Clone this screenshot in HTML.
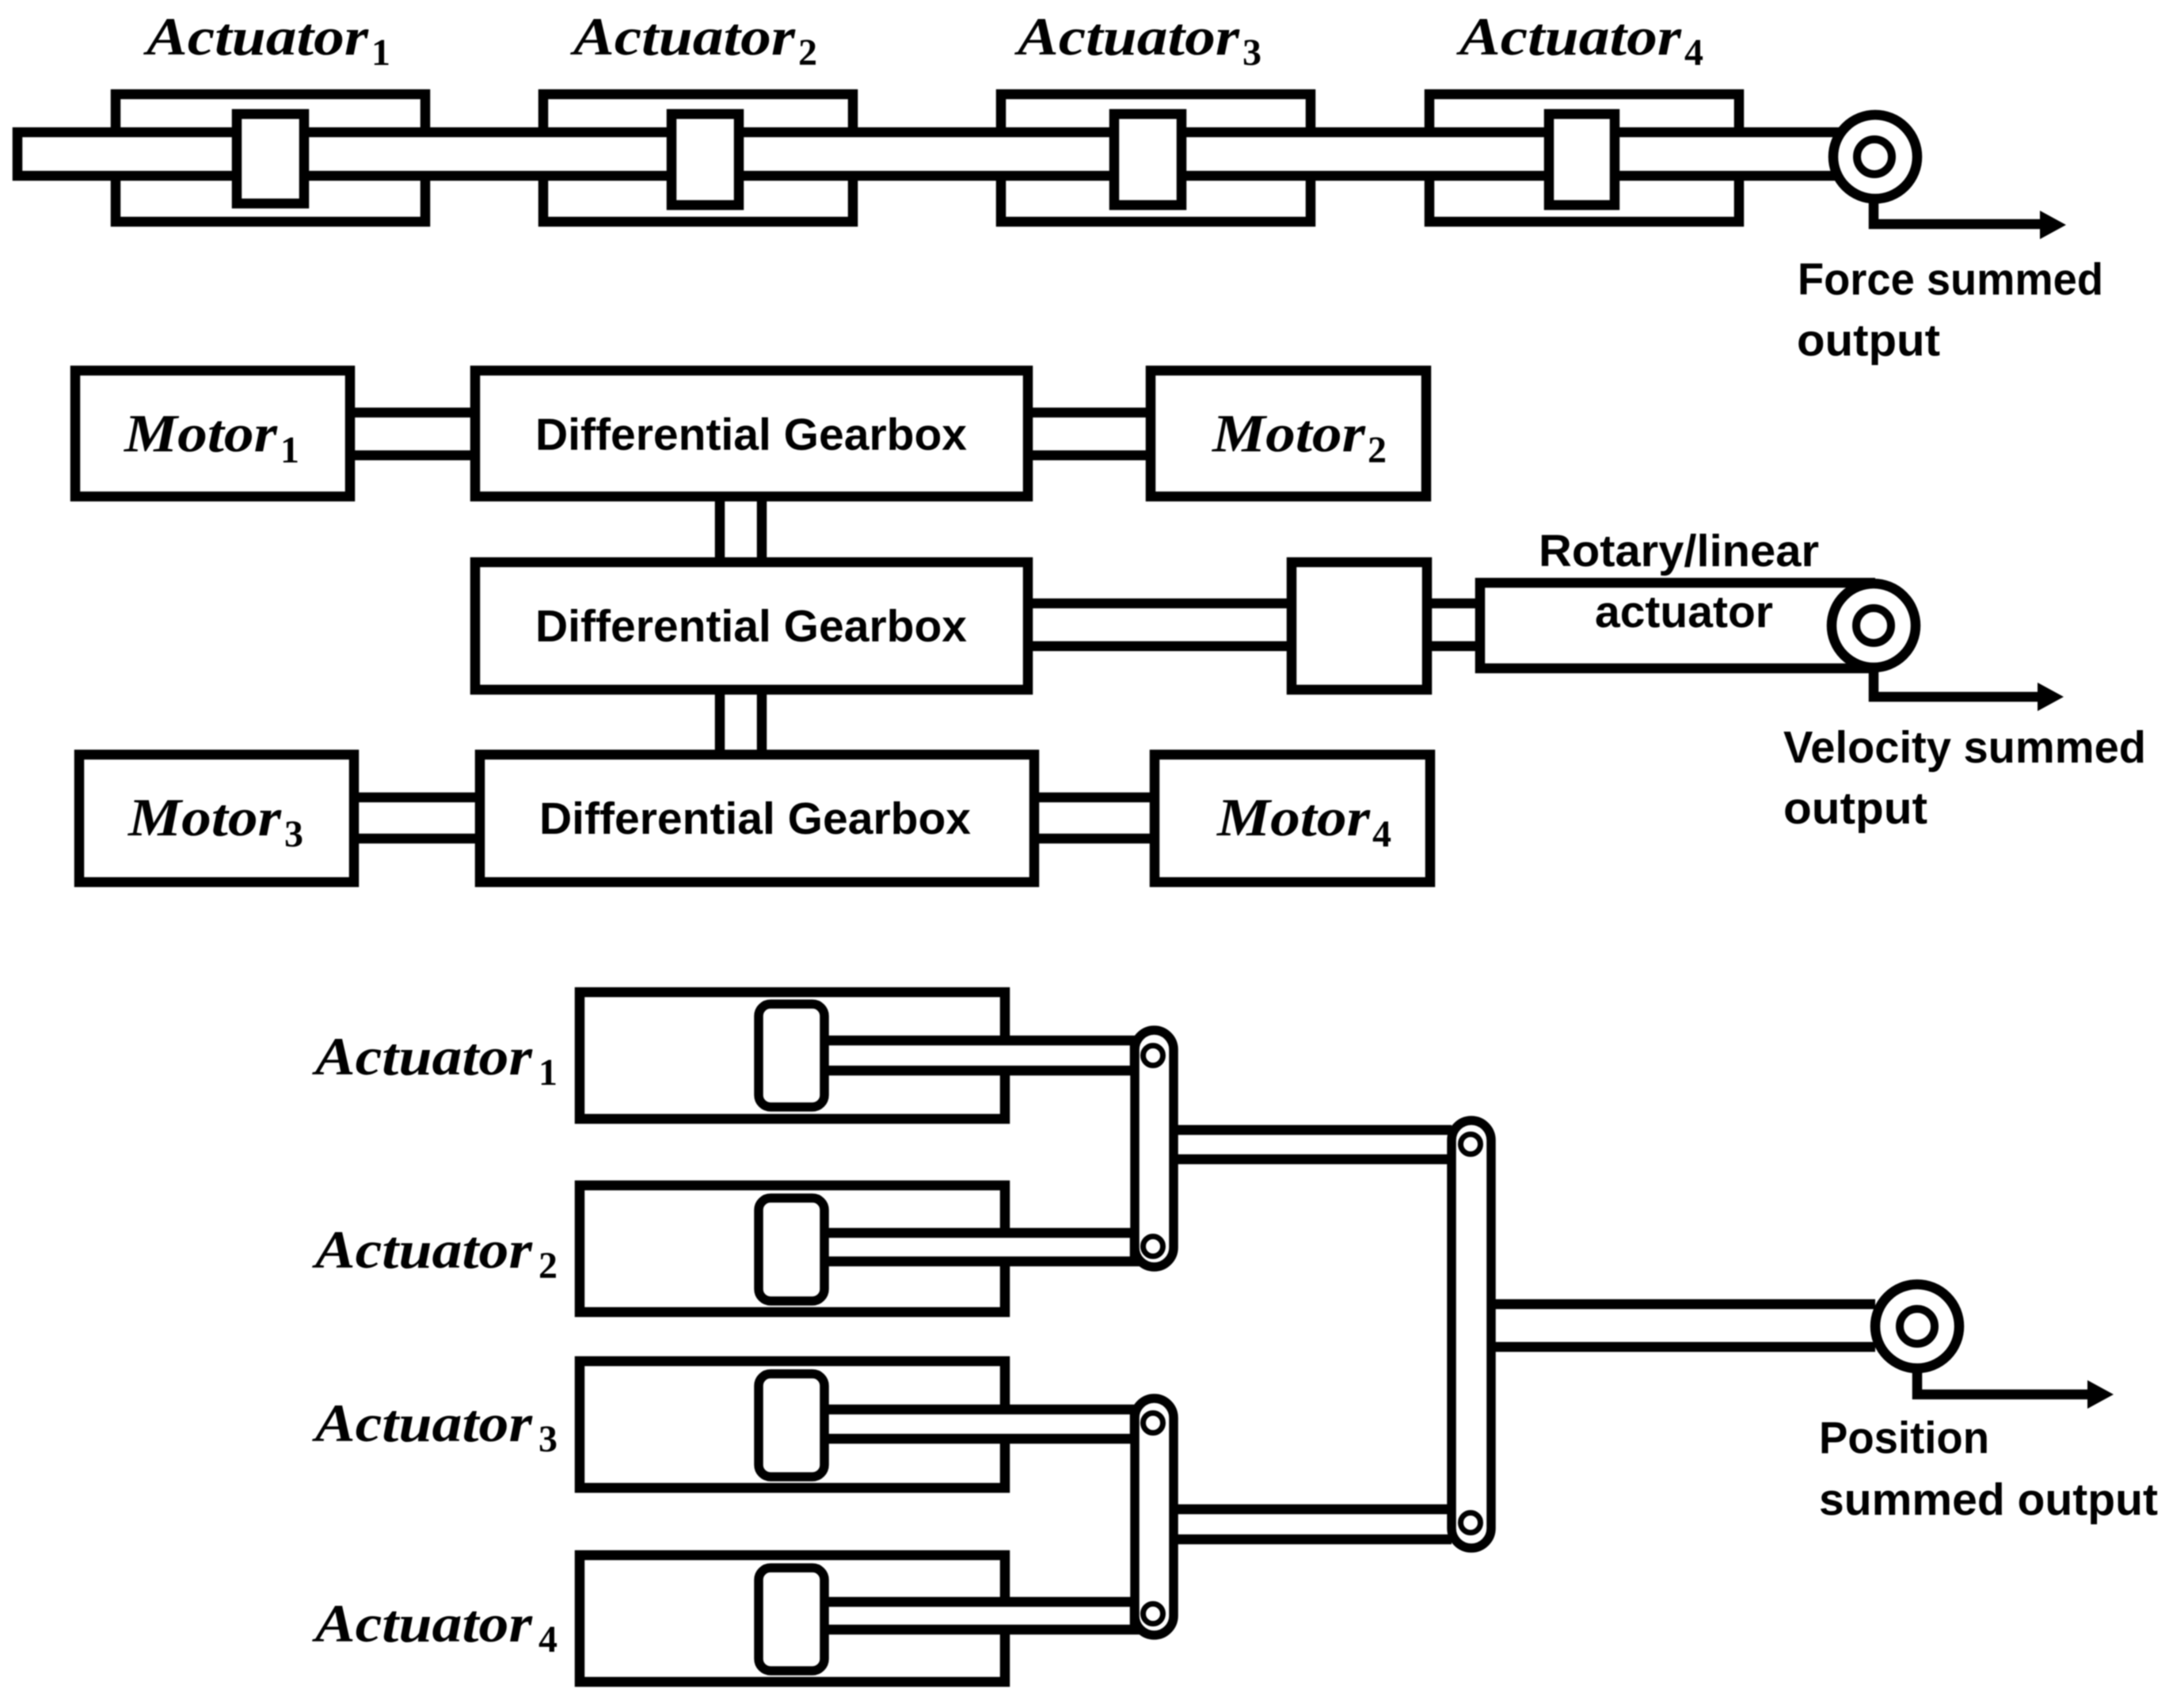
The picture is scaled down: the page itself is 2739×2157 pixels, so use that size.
<!DOCTYPE html>
<html>
<head>
<meta charset="utf-8">
<style>
html,body{margin:0;padding:0;background:#fff;width:2739px;height:2157px;overflow:hidden}
svg{display:block;filter:blur(0.7px)}
.s{fill:#fff;stroke:#000;stroke-width:12.5}
.c{fill:#fff;stroke:#000;stroke-width:12.5}
.v{fill:#fff;stroke:#000;stroke-width:11.5}
.p{fill:#fff;stroke:#000;stroke-width:7}
.r{fill:#fff;stroke:#000;stroke-width:10}
.l{fill:none;stroke:#000;stroke-width:12.5}
.m{font-family:"Liberation Serif",serif;font-weight:bold;font-style:italic;font-size:68px;fill:#000}
.d{font-family:"Liberation Serif",serif;font-weight:bold;font-size:48px;fill:#000}
.t{font-family:"Liberation Sans",sans-serif;font-weight:bold;font-size:57px;fill:#000}
</style>
</head>
<body>
<svg xmlns="http://www.w3.org/2000/svg" width="2739" height="2157" viewBox="0 0 2739 2157">
<rect width="2739" height="2157" fill="#fff"/>

<!-- TOP: force summed -->
<rect class="s" x="146" y="119" width="391" height="161"/>
<rect class="s" x="686" y="119" width="391" height="161"/>
<rect class="s" x="1264" y="119" width="391" height="161"/>
<rect class="s" x="1805" y="119" width="391" height="161"/>
<rect class="s" x="22" y="167" width="2346" height="55"/>
<rect class="s" x="299" y="144" width="85" height="113"/>
<rect class="s" x="848" y="144" width="85" height="115"/>
<rect class="s" x="1407" y="144" width="85" height="115"/>
<rect class="s" x="1956" y="144" width="83" height="115"/>
<circle class="s" cx="2368" cy="198" r="53"/>
<circle class="r" cx="2367" cy="198" r="22"/>
<path class="l" d="M2366 252V283H2580"/>
<path d="M2576 266L2609 284L2576 302Z"/>

<text class="m" x="185" y="69" textLength="280" lengthAdjust="spacingAndGlyphs">Actuator</text><text class="d" x="469" y="82">1</text>
<text class="m" x="724" y="69" textLength="280" lengthAdjust="spacingAndGlyphs">Actuator</text><text class="d" x="1008" y="82">2</text>
<text class="m" x="1285" y="69" textLength="280" lengthAdjust="spacingAndGlyphs">Actuator</text><text class="d" x="1569" y="82">3</text>
<text class="m" x="1843" y="69" textLength="280" lengthAdjust="spacingAndGlyphs">Actuator</text><text class="d" x="2127" y="82">4</text>

<text class="t" x="2270" y="372" textLength="386" lengthAdjust="spacingAndGlyphs">Force summed</text>
<text class="t" x="2269" y="449" textLength="181" lengthAdjust="spacingAndGlyphs">output</text>

<!-- MIDDLE: velocity summed -->
<path class="l" d="M442 521H600M442 575H600"/>
<path class="l" d="M1298 521H1453M1298 575H1453"/>
<path class="l" d="M909 627V710M962 627V710"/>
<path class="l" d="M909 871V953M962 871V953"/>
<path class="l" d="M1298 762H1630M1298 816H1630"/>
<path class="l" d="M1802 762H1869M1802 816H1869"/>
<path class="l" d="M447 1007H606M447 1059H606"/>
<path class="l" d="M1306 1007H1458M1306 1059H1458"/>

<rect class="s" x="95" y="468" width="347" height="159"/>
<rect class="s" x="600" y="468" width="698" height="159"/>
<rect class="s" x="1453" y="468" width="348" height="159"/>
<rect class="s" x="600" y="710" width="698" height="161"/>
<rect class="s" x="1631" y="710" width="171" height="161"/>
<path class="s" d="M2368 736H1869V844H2368"/>
<circle class="s" cx="2366" cy="790" r="53"/>
<circle class="r" cx="2366" cy="790" r="22"/>
<path class="l" d="M2366 844V880H2580"/>
<path d="M2573 862L2606 880L2573 898Z"/>
<rect class="s" x="100" y="953" width="347" height="161"/>
<rect class="s" x="606" y="953" width="700" height="161"/>
<rect class="s" x="1458" y="953" width="348" height="161"/>

<text class="m" x="157" y="570" textLength="193" lengthAdjust="spacingAndGlyphs">Motor</text><text class="d" x="354" y="584">1</text>
<text class="m" x="1531" y="570" textLength="193" lengthAdjust="spacingAndGlyphs">Motor</text><text class="d" x="1727" y="584">2</text>
<text class="m" x="162" y="1055" textLength="193" lengthAdjust="spacingAndGlyphs">Motor</text><text class="d" x="359" y="1069">3</text>
<text class="m" x="1537" y="1055" textLength="193" lengthAdjust="spacingAndGlyphs">Motor</text><text class="d" x="1733" y="1069">4</text>

<text class="t" x="676" y="568" textLength="545" lengthAdjust="spacingAndGlyphs">Differential Gearbox</text>
<text class="t" x="676" y="810" textLength="545" lengthAdjust="spacingAndGlyphs">Differential Gearbox</text>
<text class="t" x="681" y="1053" textLength="545" lengthAdjust="spacingAndGlyphs">Differential Gearbox</text>

<text class="t" x="1943" y="715" textLength="354" lengthAdjust="spacingAndGlyphs">Rotary/linear</text>
<text class="t" x="2014" y="792" textLength="225" lengthAdjust="spacingAndGlyphs">actuator</text>
<text class="t" x="2252" y="963" textLength="458" lengthAdjust="spacingAndGlyphs">Velocity summed</text>
<text class="t" x="2252" y="1040" textLength="182" lengthAdjust="spacingAndGlyphs">output</text>

<!-- BOTTOM: position summed -->
<rect class="c" x="732" y="1253" width="537" height="160"/>
<rect class="c" x="732" y="1497" width="537" height="160"/>
<rect class="c" x="732" y="1719" width="537" height="160"/>
<rect class="c" x="732" y="1964" width="537" height="160"/>

<rect class="s" x="1039" y="1314" width="394" height="38"/>
<rect class="s" x="1039" y="1557" width="394" height="36"/>
<rect class="s" x="1039" y="1780" width="394" height="37"/>
<rect class="s" x="1039" y="2023" width="394" height="35"/>
<path class="l" d="M1482 1427H1833M1482 1464H1833"/>
<path class="l" d="M1482 1906H1833M1482 1944H1833"/>
<path class="l" d="M1883 1647H2368M1883 1701H2368"/>

<rect class="v" x="958" y="1268" width="83" height="130" rx="15"/>
<rect class="v" x="958" y="1513" width="83" height="130" rx="15"/>
<rect class="v" x="958" y="1735" width="83" height="130" rx="15"/>
<rect class="v" x="958" y="1980" width="83" height="130" rx="15"/>

<rect class="v" x="1433" y="1301" width="49" height="299" rx="24.5"/>
<rect class="v" x="1433" y="1766" width="49" height="299" rx="24.5"/>
<rect class="v" x="1833" y="1415" width="50" height="540" rx="25"/>
<circle class="p" cx="1456" cy="1333" r="12.5"/>
<circle class="p" cx="1456" cy="1574" r="12.5"/>
<circle class="p" cx="1456" cy="1797" r="12.5"/>
<circle class="p" cx="1456" cy="2038" r="12.5"/>
<circle class="p" cx="1857" cy="1445" r="12.5"/>
<circle class="p" cx="1857" cy="1923" r="12.5"/>

<circle class="s" cx="2421" cy="1675" r="53"/>
<circle class="r" cx="2421" cy="1675" r="22"/>
<path class="l" d="M2421 1728V1761H2640"/>
<path d="M2636 1743L2669 1761L2636 1779Z"/>

<text class="m" x="398" y="1357" textLength="274" lengthAdjust="spacingAndGlyphs">Actuator</text><text class="d" x="680" y="1370">1</text>
<text class="m" x="398" y="1601" textLength="274" lengthAdjust="spacingAndGlyphs">Actuator</text><text class="d" x="680" y="1614">2</text>
<text class="m" x="398" y="1820" textLength="274" lengthAdjust="spacingAndGlyphs">Actuator</text><text class="d" x="680" y="1833">3</text>
<text class="m" x="398" y="2073" textLength="274" lengthAdjust="spacingAndGlyphs">Actuator</text><text class="d" x="680" y="2086">4</text>

<text class="t" x="2297" y="1835" textLength="215" lengthAdjust="spacingAndGlyphs">Position</text>
<text class="t" x="2297" y="1913" textLength="428" lengthAdjust="spacingAndGlyphs">summed output</text>
</svg>
</body>
</html>
